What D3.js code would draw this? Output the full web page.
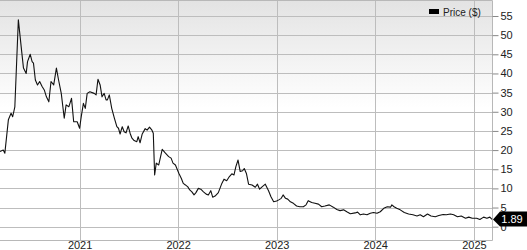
<!DOCTYPE html>
<html>
<head>
    <script src="https://d3js.org/d3.v7.min.js"></script>
    <style>
        body { margin: 0; background: #fff; }
        text { font-family: "Liberation Sans", Arial, sans-serif; fill: #222; }
    </style>
</head>
<body>
    <svg width="527" height="250"></svg>
    <script>
        // price history
        var dates = [
            "2020-03-12","2020-03-24","2020-03-30","2020-04-12","2020-04-22","2020-04-28","2020-05-06","2020-05-19",
            "2020-06-01","2020-06-07","2020-06-17","2020-06-22","2020-07-02","2020-07-09","2020-07-14","2020-07-21",
            "2020-07-29","2020-08-06","2020-08-15","2020-08-23","2020-08-31","2020-09-09","2020-09-17","2020-09-27",
            "2020-10-07","2020-10-15","2020-10-25","2020-11-05","2020-11-12","2020-11-22","2020-12-02","2020-12-10",
            "2020-12-23","2021-01-01","2021-01-07","2021-01-15","2021-01-22","2021-01-29","2021-02-08","2021-02-24",
            "2021-03-03","2021-03-10","2021-03-18","2021-03-25","2021-04-02","2021-04-09","2021-04-14","2021-04-21",
            "2021-04-30","2021-05-10","2021-05-19","2021-05-25","2021-05-31","2021-06-08","2021-06-15","2021-06-22",
            "2021-06-30","2021-07-07","2021-07-14","2021-07-22","2021-08-01","2021-08-06","2021-08-13","2021-08-21",
            "2021-09-01","2021-09-08","2021-09-17","2021-09-26","2021-10-01","2021-10-06","2021-10-12","2021-10-21",
            "2021-11-03","2021-11-15","2021-11-27","2021-12-06","2021-12-13","2021-12-22","2022-01-04","2022-01-13",
            "2022-01-20","2022-01-28","2022-02-06","2022-02-13","2022-02-21","2022-03-01","2022-03-08","2022-03-17",
            "2022-03-26","2022-04-05","2022-04-15","2022-04-23","2022-05-02","2022-05-09","2022-05-18","2022-05-30",
            "2022-06-12","2022-06-20","2022-06-30","2022-07-10","2022-07-19","2022-07-27","2022-08-03","2022-08-11",
            "2022-08-19","2022-08-28","2022-09-03","2022-09-11","2022-09-19","2022-10-02","2022-10-14","2022-10-22",
            "2022-10-30","2022-11-08","2022-11-20","2022-12-02","2022-12-11","2022-12-21","2023-01-01","2023-01-09",
            "2023-01-18","2023-01-25","2023-02-03","2023-02-11","2023-02-21","2023-03-04","2023-03-16","2023-03-28",
            "2023-04-10","2023-04-20","2023-04-28","2023-05-11","2023-05-23","2023-06-05","2023-06-17","2023-06-29",
            "2023-07-15","2023-07-30","2023-08-12","2023-08-24","2023-09-06","2023-09-18","2023-10-01","2023-10-19",
            "2023-10-28","2023-11-07","2023-11-19","2023-12-02","2023-12-14","2023-12-26","2024-01-08","2024-01-20",
            "2024-02-02","2024-02-15","2024-02-27","2024-03-03","2024-03-11","2024-03-21","2024-04-03","2024-04-18",
            "2024-05-04","2024-05-20","2024-06-04","2024-06-16","2024-06-28","2024-07-13","2024-07-26","2024-08-11",
            "2024-08-24","2024-09-09","2024-09-21","2024-10-06","2024-10-18","2024-11-01","2024-11-15","2024-12-01",
            "2024-12-13","2024-12-26","2025-01-11","2025-01-23","2025-02-06","2025-02-18","2025-03-01","2025-03-09"
        ];
        var prices = [
            19.6, 20.0, 19.2, 27.9, 29.6, 28.7, 31.3, 54.0,
            45.3, 41.4, 40.0, 43.1, 45.0, 43.1, 42.7, 38.3,
            37.0, 37.9, 36.6, 35.7, 33.9, 32.6, 37.9, 37.0,
            41.4, 38.3, 34.8, 28.3, 31.8, 31.3, 33.5, 27.4,
            27.4, 25.7, 28.7, 32.2, 30.9, 34.8, 35.2, 34.8,
            34.4, 38.5, 37.0, 33.9, 34.8, 33.1, 33.1, 34.4,
            30.9, 28.3, 26.1, 25.7, 24.2, 26.1, 24.8, 24.5,
            26.3, 24.4, 23.1, 22.5, 22.2, 23.5, 21.9, 24.2,
            25.6, 25.2, 26.0, 25.2, 24.4, 13.5, 16.6, 16.1,
            20.2, 19.2, 18.3, 17.9, 16.6, 16.1, 13.9, 12.6,
            11.3, 10.9, 10.4, 9.6, 9.1, 8.3, 8.9, 10.0,
            9.8, 9.1, 8.5, 8.3, 9.4, 7.7, 8.0, 8.9,
            11.3, 12.4, 12.0, 13.1, 13.8, 13.5, 15.7, 17.4,
            14.4, 14.6, 15.2, 13.9, 11.1, 10.9, 10.3, 11.1,
            9.8, 10.4, 11.1, 9.4, 7.8, 6.5, 6.7, 7.0,
            7.4, 8.3, 7.4, 7.2, 6.5, 6.1, 5.4, 5.2,
            5.2, 5.7, 6.8, 6.3, 6.1, 5.9, 5.2, 5.4,
            5.7, 5.1, 4.5, 4.2, 4.4, 3.9, 3.4, 3.6,
            3.8, 3.1, 3.3, 3.1, 3.5, 3.7, 3.5, 3.9,
            4.8, 5.2, 5.1, 5.7, 5.2, 4.8, 4.4, 3.7,
            3.3, 3.1, 2.8, 3.1, 2.6, 3.3, 2.8, 2.6,
            2.9, 3.2, 3.1, 3.3, 3.1, 2.6, 2.8, 2.2,
            2.5, 2.2, 2.2, 1.9, 2.5, 2.2, 2.5, 1.89
        ];
        var yTicks = [0, 5, 10, 15, 20, 25, 30, 35, 40, 45, 50, 55];
        var xTickYears = [2021, 2022, 2023, 2024, 2025];
        var seriesName = "Price ($)";
        var lastPrice = 1.89;

        var parse = d3.timeParse("%Y-%m-%d");
        var data = dates.map(function(d, i) { return { date: parse(d), price: prices[i] }; });

        var svg = d3.select("svg");
        var plotW = 492, plotH = 240;

        var x = d3.scaleTime()
            .domain(d3.extent(data, function(d) { return d.date; }))
            .range([0, plotW]);
        var y = d3.scaleLinear().domain([0, 55]).range([226.7, 16]);

        // background gradient
        var grad = svg.append("defs").append("linearGradient")
            .attr("id", "bg").attr("x1", 0).attr("y1", 0).attr("x2", 0).attr("y2", 1);
        grad.append("stop").attr("offset", "0%").attr("stop-color", "#e3e3e3");
        grad.append("stop").attr("offset", "45%").attr("stop-color", "#ffffff");
        grad.append("stop").attr("offset", "100%").attr("stop-color", "#ffffff");

        svg.append("rect").attr("x", 0).attr("y", 0)
            .attr("width", plotW).attr("height", plotH)
            .attr("fill", "url(#bg)");

        // grid
        svg.append("g").selectAll("line").data(yTicks).enter().append("line")
            .attr("x1", 0).attr("x2", plotW)
            .attr("y1", function(d) { return Math.round(y(d)) + 0.5; })
            .attr("y2", function(d) { return Math.round(y(d)) + 0.5; })
            .attr("stroke", "#bdbdbd");

        var yearDates = xTickYears.map(function(yr) { return new Date(yr, 0, 1); });
        svg.append("g").selectAll("line").data(yearDates).enter().append("line")
            .attr("x1", function(d) { return Math.round(x(d)) + 0.5; })
            .attr("x2", function(d) { return Math.round(x(d)) + 0.5; })
            .attr("y1", 0).attr("y2", plotH)
            .attr("stroke", "#bdbdbd");

        // frame
        svg.append("path")
            .attr("d", "M0,0.5H" + (plotW + 0.5) + "V" + (plotH + 0.5) + "H0")
            .attr("fill", "none").attr("stroke", "#b8b8b8");

        // y axis on the right
        var yAxis = svg.append("g")
            .attr("transform", "translate(" + (plotW + 0.5) + ",0)")
            .call(d3.axisRight(y).tickValues(yTicks).tickSize(6).tickPadding(2));
        yAxis.select(".domain").remove();
        yAxis.selectAll(".tick line").attr("stroke", "#888");
        yAxis.selectAll("text").style("font-size", "11px").attr("fill", "#222")
            .style("font-family", "'Liberation Sans', Arial, sans-serif");

        // x axis labels
        var xAxis = svg.append("g")
            .attr("transform", "translate(0," + plotH + ")")
            .call(d3.axisBottom(x).tickValues(yearDates).tickSize(0).tickPadding(1)
                .tickFormat(d3.timeFormat("%Y")));
        xAxis.select(".domain").remove();
        xAxis.selectAll("text").style("font-size", "11px").attr("fill", "#222")
            .style("font-family", "'Liberation Sans', Arial, sans-serif");

        // price line
        var line = d3.line()
            .x(function(d) { return x(d.date); })
            .y(function(d) { return y(d.price); });
        svg.append("path").datum(data)
            .attr("d", line)
            .attr("fill", "none")
            .attr("stroke", "#111")
            .attr("stroke-width", 1.1)
            .attr("stroke-linejoin", "round");

        // last price badge
        var by = y(lastPrice);
        var badge = svg.append("g").attr("transform", "translate(" + (plotW + 1) + "," + by + ")");
        badge.append("path")
            .attr("d", "M0,0L7,-8H34V7H7Z")
            .attr("fill", "#000");
        badge.append("text")
            .attr("x", 19).attr("y", 4)
            .attr("text-anchor", "middle")
            .style("font-size", "11px")
            .style("fill", "#fff")
            .text(lastPrice.toFixed(2));

        // legend
        svg.append("rect").attr("x", 429).attr("y", 9).attr("width", 10).attr("height", 5).attr("fill", "#000");
        svg.append("text").attr("x", 443).attr("y", 15.5)
            .style("font-size", "10px").text(seriesName);
    </script>
</body>
</html>
